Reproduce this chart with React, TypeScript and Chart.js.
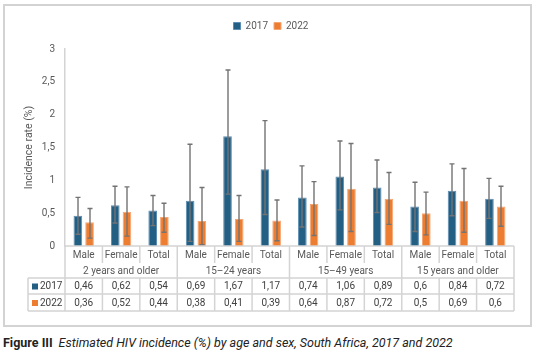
import React, { useEffect, useRef } from 'react';
import { Chart, registerables } from 'chart.js';

Chart.register(...registerables);

// ---- data ----
const categories = ['Male', 'Female', 'Total', 'Male', 'Female', 'Total', 'Male', 'Female', 'Total', 'Male', 'Female', 'Total'];
const groups = ['2 years and older', '15–24 years', '15–49 years', '15 years and older'];
const seriesNames = ['2017', '2022'];
const values2017 = [0.46, 0.62, 0.54, 0.69, 1.67, 1.17, 0.74, 1.06, 0.89, 0.6, 0.84, 0.72];
const values2022 = [0.36, 0.52, 0.44, 0.38, 0.41, 0.39, 0.64, 0.87, 0.72, 0.5, 0.69, 0.6];
const low2017 = [0.18, 0.35, 0.31, 0.07, 0.79, 0.48, 0.29, 0.55, 0.51, 0.22, 0.46, 0.42];
const high2017 = [0.74, 0.91, 0.77, 1.55, 2.68, 1.91, 1.22, 1.6, 1.31, 0.97, 1.25, 1.03];
const low2022 = [0.12, 0.15, 0.21, 0.02, 0.07, 0.08, 0.16, 0.22, 0.33, 0.17, 0.21, 0.3];
const high2022 = [0.57, 0.9, 0.65, 0.89, 0.77, 0.7, 0.98, 1.56, 1.12, 0.82, 1.18, 0.91];
const yMax = 3;
const yStep = 0.5;
const yTitle = 'Incidence rate (%)';
const captionBold = 'Figure III';
const captionItalic = 'Estimated HIV incidence (%) by age and sex, South Africa, 2017 and 2022';

const FILL = ['#235E83', '#ED7D31'];
const EDGE = ['#5C8DB2', '#F5A673'];
const FONT = 'Roboto, "Liberation Sans", Arial, sans-serif';
const fmt = (v: number) => String(v).replace('.', ',');

const legendGap = {
  id: 'legendGap',
  beforeLayout(chart: any) {
    const lg = chart.legend;
    if (lg && !lg._gapPatched) {
      const orig = lg.fit;
      lg.fit = function () {
        orig.call(this);
        this.height += 8;
      };
      lg._gapPatched = true;
    }
  },
};

const errorBars = {
  id: 'errorBars',
  afterDatasetsDraw(chart: any) {
    const { ctx } = chart;
    const y = chart.scales.y;
    ctx.save();
    ctx.strokeStyle = '#737373';
    ctx.lineWidth = 1.4;
    chart.data.datasets.forEach((ds: any, i: number) => {
      const meta = chart.getDatasetMeta(i);
      meta.data.forEach((el: any, j: number) => {
        const x = Math.round(el.x);
        const yl = y.getPixelForValue(ds.errLow[j]);
        const yh = y.getPixelForValue(ds.errHigh[j]);
        ctx.beginPath();
        ctx.moveTo(x, yl);
        ctx.lineTo(x, yh);
        ctx.moveTo(x - 2.5, yl);
        ctx.lineTo(x + 2.5, yl);
        ctx.moveTo(x - 2.5, yh);
        ctx.lineTo(x + 2.5, yh);
        ctx.stroke();
      });
    });
    ctx.restore();
  },
};

const dataTable = {
  id: 'dataTable',
  afterDraw(chart: any) {
    const { ctx, chartArea: ca } = chart;
    const x = chart.scales.x;
    const n = categories.length;
    const edge = (k: number) => x.getPixelForValue(k - 0.5);
    const top = ca.bottom;
    const rowCat = top + 17;
    const rowGroup = top + 32;
    const row1 = rowGroup + 16;
    const row2 = row1 + 17;
    const left = 28;
    const right = edge(n);

    ctx.save();
    ctx.strokeStyle = '#d4d4d4';
    ctx.lineWidth = 1.5;
    ctx.beginPath();
    ctx.moveTo(edge(0), top);
    ctx.lineTo(right, top);
    [rowGroup, row1, row2].forEach((yy) => {
      ctx.moveTo(left, yy);
      ctx.lineTo(right, yy);
    });
    for (let k = 0; k <= n; k++) {
      const xx = edge(k);
      if (k % 3 === 0) {
        ctx.moveTo(xx, top);
        ctx.lineTo(xx, row2);
      } else {
        ctx.moveTo(xx, top);
        ctx.lineTo(xx, rowCat);
        ctx.moveTo(xx, rowGroup);
        ctx.lineTo(xx, row2);
      }
    }
    ctx.moveTo(left, rowGroup);
    ctx.lineTo(left, row2);
    ctx.stroke();

    ctx.textAlign = 'center';
    ctx.textBaseline = 'middle';
    ctx.font = `10px ${FONT}`;
    ctx.fillStyle = '#595959';
    categories.forEach((c, k) => {
      ctx.fillText(c, (edge(k) + edge(k + 1)) / 2, (top + rowCat) / 2 + 0.5);
    });
    groups.forEach((g, gi) => {
      ctx.fillText(g, (edge(gi * 3) + edge(gi * 3 + 3)) / 2, (rowCat + rowGroup) / 2 + 0.5);
    });

    const rows = [
      { name: seriesNames[0], vals: values2017, y0: rowGroup, y1: row1, color: FILL[0] },
      { name: seriesNames[1], vals: values2022, y0: row1, y1: row2, color: FILL[1] },
    ];
    rows.forEach((r) => {
      const cy = (r.y0 + r.y1) / 2 + 0.5;
      ctx.fillStyle = r.color;
      ctx.fillRect(left + 4, cy - 3, 6, 6);
      ctx.fillStyle = '#404040';
      ctx.textAlign = 'left';
      ctx.fillText(r.name, left + 12, cy);
      ctx.textAlign = 'center';
      r.vals.forEach((v, k) => {
        ctx.fillText(fmt(v), (edge(k) + edge(k + 1)) / 2, cy);
      });
    });
    ctx.restore();
  },
};

export default function App() {
  const ref = useRef<HTMLCanvasElement | null>(null);

  useEffect(() => {
    if (!ref.current) return;
    const chart = new Chart(ref.current, {
      type: 'bar',
      data: {
        labels: categories,
        datasets: [
          {
            label: seriesNames[0],
            data: values2017,
            backgroundColor: FILL[0],
            borderColor: EDGE[0],
            borderWidth: 1,
            errLow: low2017,
            errHigh: high2017,
          } as any,
          {
            label: seriesNames[1],
            data: values2022,
            backgroundColor: FILL[1],
            borderColor: EDGE[1],
            borderWidth: 1,
            errLow: low2022,
            errHigh: high2022,
          } as any,
        ],
      },
      options: {
        responsive: false,
        maintainAspectRatio: false,
        animation: false,
        devicePixelRatio: 1,
        datasets: { bar: { categoryPercentage: 0.625, barPercentage: 0.74 } },
        layout: { padding: { top: 15, left: 8, right: 0, bottom: 0 } },
        plugins: {
          tooltip: { enabled: false },
          legend: {
            position: 'top',
            labels: {
              boxWidth: 7,
              boxHeight: 7,
              padding: 6,
              color: '#595959',
              font: { family: FONT, size: 10 },
            },
          },
        },
        scales: {
          x: {
            ticks: { display: false },
            grid: { display: false, drawTicks: false },
            border: { display: false },
            afterFit: (s: any) => {
              s.height = 80;
            },
          },
          y: {
            min: 0,
            max: yMax,
            ticks: {
              stepSize: yStep,
              padding: 10,
              color: '#595959',
              font: { family: FONT, size: 10 },
              callback: (v: any) => fmt(Number(v)),
            },
            grid: { display: false, drawTicks: false },
            border: { display: true, color: '#d4d4d4', width: 1.5 },
            title: {
              display: true,
              text: yTitle,
              color: '#595959',
              font: { family: FONT, size: 10.5 },
              padding: { top: 15, bottom: 0 },
            },
            afterFit: (s: any) => {
              s.width = 57;
            },
          },
          y2: {
            position: 'right',
            display: true,
            ticks: { display: false },
            grid: { display: false, drawTicks: false },
            border: { display: false },
            afterFit: (s: any) => {
              s.width = 20;
            },
          },
        },
      } as any,
      plugins: [legendGap, errorBars, dataTable],
    });
    return () => chart.destroy();
  }, []);

  return (
    <div style={{ position: 'fixed', left: 0, top: 0, width: 534, height: 359, background: '#ffffff', overflow: 'hidden' }}>
      <div
        style={{
          position: 'absolute',
          left: 3,
          top: 4,
          width: 529,
          height: 323,
          border: '2px solid #d3d3d3',
          boxSizing: 'border-box',
        }}
      />
      <canvas ref={ref} width={534} height={326} style={{ position: 'absolute', left: 0, top: 0, width: 534, height: 326 }} />
      <div
        style={{
          position: 'absolute',
          left: 3,
          top: 336,
          fontFamily: FONT,
          fontSize: 12.5,
          lineHeight: '14px',
          color: '#222222',
          whiteSpace: 'nowrap',
        }}
      >
        <b>{captionBold}</b>
        <span style={{ marginLeft: 6, fontStyle: 'italic' }}>{captionItalic}</span>
      </div>
    </div>
  );
}
